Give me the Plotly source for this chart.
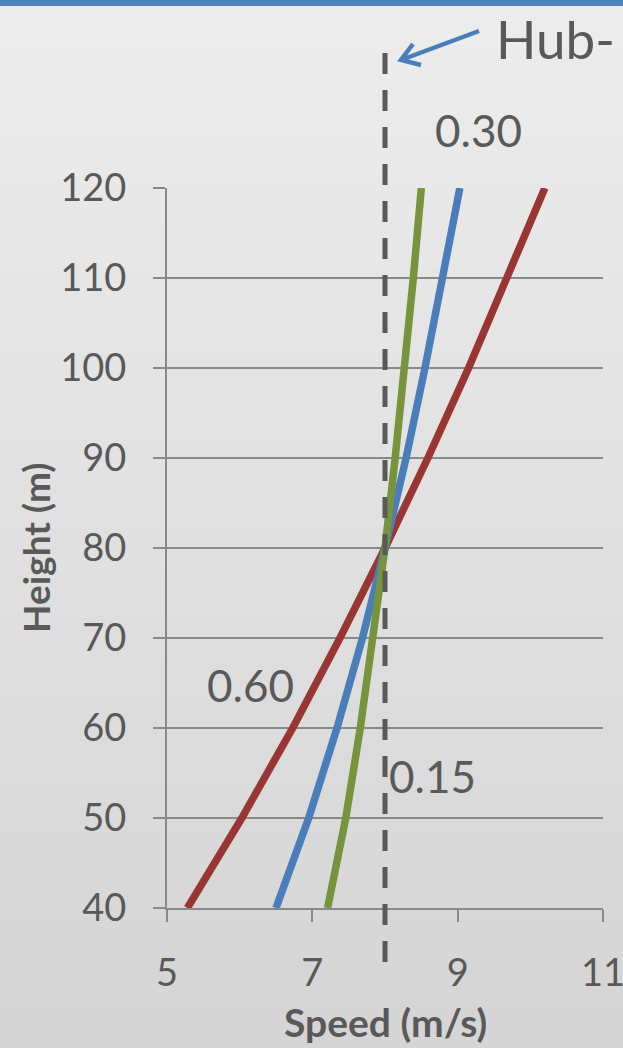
import plotly.graph_objects as go

# Wind-speed profiles (power-law shear) around an 80 m hub height
heights = [40, 50, 60, 70, 80, 90, 100, 110, 120]
speed_015 = [7.21, 7.46, 7.66, 7.84, 8.00, 8.14, 8.27, 8.39, 8.50]
speed_030 = [6.50, 6.95, 7.34, 7.69, 8.00, 8.29, 8.55, 8.80, 9.03]
speed_060 = [5.28, 6.03, 6.73, 7.38, 8.00, 8.59, 9.15, 9.68, 10.20]
hub_speed = 8.0

x_ticks = [5, 7, 9, 11]
y_ticks = [40, 50, 60, 70, 80, 90, 100, 110, 120]

W, H = 623, 1048
ML, MR, MT, MB = 167, 20, 188, 140
PW, PH = W - ML - MR, H - MT - MB

FONT = "Lato"
TXT = "#595959"
AX = "#898989"


def px(x):
    return (x - ML) / PW


def py(y):
    return (H - MB - y) / PH


fig = go.Figure()

series = [
    (speed_060, "#993533", "0.60"),
    (speed_030, "#4a7ebb", "0.30"),
    (speed_015, "#77933c", "0.15"),
]
for vals, col, name in series:
    fig.add_trace(go.Scatter(x=vals, y=heights, mode="lines", name=name,
                             line=dict(color=col, width=7.5),
                             showlegend=False, hoverinfo="skip"))

shapes = []

# page background: soft vertical grey gradient
n = 48
top_c, bot_c = (236, 236, 236), (213, 213, 213)
for i in range(n):
    t = i / (n - 1)
    c = tuple(round(top_c[k] + (bot_c[k] - top_c[k]) * t) for k in range(3))
    y0 = 6 + (H - 6) * i / n
    y1 = 6 + (H - 6) * (i + 1) / n + 1
    shapes.append(dict(type="rect", xref="paper", yref="paper", layer="below",
                       x0=px(0), x1=px(W), y0=py(y1), y1=py(y0),
                       fillcolor="rgb(%d,%d,%d)" % c, line=dict(width=0)))
# blue band across the top
shapes.append(dict(type="rect", xref="paper", yref="paper", layer="below",
                   x0=px(0), x1=px(W), y0=py(6), y1=py(0),
                   fillcolor="#4f81bd", line=dict(width=0)))

# hub-height speed marker
shapes.append(dict(type="line", xref="x", yref="paper", layer="above",
                   x0=hub_speed, x1=hub_speed, y0=py(53), y1=py(963),
                   line=dict(color=TXT, width=5, dash="21px,16px")))

# pointer arrow to the marker
tip = (401, 60)
shapes.append(dict(type="path", xref="paper", yref="paper", layer="above",
                   path="M %f,%f L %f,%f M %f,%f L %f,%f L %f,%f" % (
                       px(479), py(31), px(tip[0]), py(tip[1]),
                       px(413), py(44), px(tip[0]), py(tip[1]), px(421), py(65)),
                   line=dict(color="#4a7ebb", width=4.5)))

annotations = [
    dict(text="Hub-", x=px(494), y=py(38), xref="paper", yref="paper",
         xanchor="left", yanchor="middle", showarrow=False,
         font=dict(family=FONT, size=53, color=TXT)),
    dict(text="0.30", x=px(478), y=py(130), xref="paper", yref="paper",
         xanchor="center", yanchor="middle", showarrow=False,
         font=dict(family=FONT, size=44, color=TXT)),
    dict(text="0.60", x=px(250), y=py(685), xref="paper", yref="paper",
         xanchor="center", yanchor="middle", showarrow=False,
         font=dict(family=FONT, size=44, color=TXT)),
    dict(text="0.15", x=px(432), y=py(776), xref="paper", yref="paper",
         xanchor="center", yanchor="middle", showarrow=False,
         font=dict(family=FONT, size=44, color=TXT)),
    dict(text="<b>Height (m)</b>", x=px(35), y=py(548), xref="paper", yref="paper",
         xanchor="center", yanchor="middle", textangle=-90, showarrow=False,
         font=dict(family=FONT, size=37, color=TXT)),
    dict(text="<b>Speed (m/s)</b>", x=px(385), y=py(1022), xref="paper", yref="paper",
         xanchor="center", yanchor="middle", showarrow=False,
         font=dict(family=FONT, size=39, color=TXT)),
]

fig.update_layout(
    width=W, height=H,
    margin=dict(l=ML, r=MR, t=MT, b=MB, pad=0, autoexpand=False),
    paper_bgcolor="#e4e4e4",
    plot_bgcolor="rgba(0,0,0,0)",
    shapes=shapes,
    annotations=annotations,
    showlegend=False,
    xaxis=dict(range=[5, 11], tickvals=x_ticks, ticktext=[str(v) for v in x_ticks],
               showgrid=False, zeroline=False, showline=True, linecolor=AX, linewidth=2,
               ticks="outside", ticklen=12, tickcolor=AX, tickwidth=2,
               ticklabelstandoff=18, ticklabeloverflow="allow", automargin=False,
               tickfont=dict(family=FONT, size=38, color=TXT), fixedrange=True),
    yaxis=dict(range=[40, 120], tickvals=y_ticks, ticktext=[str(v) for v in y_ticks],
               showgrid=True, gridcolor=AX, gridwidth=2, zeroline=False,
               showline=True, linecolor=AX, linewidth=2,
               ticks="outside", ticklen=12, tickcolor=AX, tickwidth=2,
               ticklabelstandoff=19, automargin=False,
               tickfont=dict(family=FONT, size=38, color=TXT), fixedrange=True),
)

fig.write_html("out.html", config=dict(displayModeBar=False))
